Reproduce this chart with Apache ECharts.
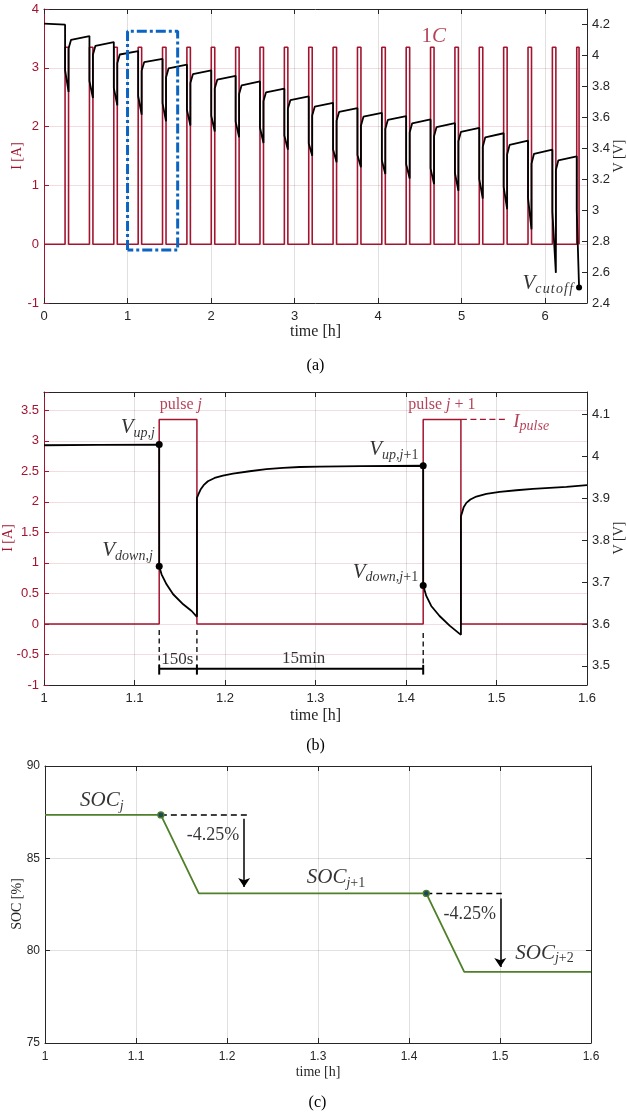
<!DOCTYPE html>
<html>
<head>
<meta charset="utf-8">
<title>Pulse discharge test</title>
<script src="https://cdn.jsdelivr.net/npm/echarts@6.0.0/dist/echarts.min.js"></script>
<style>
  html, body { margin: 0; padding: 0; background: #ffffff; }
  #chart { width: 627px; height: 1114px; }
</style>
</head>
<body>
<div id="chart"></div>
<script>
// ===================== (a) full pulse-discharge test =====================
// start time of every 1C discharge pulse [h] (150 s pulse + 15 min rest)
const pulseStart = [0.2523, 0.5440, 0.8356, 1.1273, 1.4190, 1.7106, 2.0023, 2.2940,
                    2.5856, 2.8773, 3.1690, 3.4606, 3.7523, 4.0440, 4.3356, 4.6273,
                    4.9190, 5.2106, 5.5023, 5.7940, 6.0856, 6.3773];
const pulseWidth = 150 / 3600;   // [h]
const pulseCurrent = 3.35;       // 1C [A]
const lastPulseEnd = 6.405;      // last pulse stopped at cut-off [h]
const vRestStart = 4.205;        // open-circuit voltage at t = 0 [V]
// voltage just before each pulse [V]
const vPre = [4.199, 4.125, 4.086, 4.0285, 3.978, 3.941, 3.904, 3.868, 3.832, 3.785, 3.735,
              3.694, 3.660, 3.629, 3.608, 3.586, 3.562, 3.532, 3.497, 3.449, 3.391, 3.348];
// voltage right after the current step [V]
const vDown = [3.905, 3.835, 3.790, 3.738, 3.692, 3.650, 3.610, 3.572, 3.533, 3.483, 3.432,
               3.392, 3.357, 3.322, 3.297, 3.270, 3.240, 3.200, 3.150, 3.080, 2.990, 3.000];
// voltage at the end of each complete pulse [V]
const vMin = [3.764, 3.725, 3.677, 3.617, 3.574, 3.547, 3.508, 3.471, 3.434, 3.391, 3.352,
              3.309, 3.277, 3.233, 3.205, 3.168, 3.125, 3.075, 3.006, 2.876, 2.595];
// voltage right after the pulse is switched off [V]
const vRec = [4.045, 4.005, 3.950, 3.901, 3.858, 3.822, 3.786, 3.750, 3.705, 3.655, 3.612,
              3.578, 3.546, 3.524, 3.502, 3.478, 3.446, 3.410, 3.360, 3.300, 3.260];
// voltage shortly after switch-off (end of the fast relaxation) [V]
const vKnee = [4.101, 4.062, 4.006, 3.956, 3.916, 3.879, 3.843, 3.807, 3.761, 3.711, 3.669,
               3.635, 3.604, 3.583, 3.561, 3.537, 3.506, 3.471, 3.422, 3.364, 3.322];
const kneeDelay = 0.03;          // [h]
const vCutoff = 2.5;             // [V]
// region shown in (b)
const boxTime = [1.0, 1.6];
const boxCurrent = [-0.1, 3.62];

// ===================== (b) two consecutive pulses =====================
const bPulseStart = [1.1273, 1.4190];
const bVoltTime = [1.0, 1.06, 1.1273,
  1.1273, 1.1299, 1.1354, 1.1427, 1.1538, 1.1631, 1.1690,
  1.1690, 1.1708, 1.1730, 1.1764, 1.1811, 1.1885, 1.1977, 1.2088, 1.2272, 1.2457, 1.2641, 1.2826, 1.3047, 1.3500, 1.4190,
  1.4190, 1.4224, 1.4279, 1.4371, 1.4482, 1.4607,
  1.4607, 1.4622, 1.4637, 1.4667, 1.4711, 1.4777, 1.4888, 1.5035, 1.5220, 1.5403, 1.5588, 1.5773, 1.6000];
const bVolt = [4.027, 4.028, 4.0285,
  3.738, 3.7186, 3.6948, 3.671, 3.647, 3.631, 3.617,
  3.901, 3.9107, 3.9212, 3.9315, 3.9410, 3.9488, 3.9546, 3.9594, 3.9649, 3.9697, 3.9728, 3.9750, 3.9760, 3.9770, 3.978,
  3.692, 3.667, 3.643, 3.619, 3.596, 3.574,
  3.8576, 3.8678, 3.8790, 3.8893, 3.8974, 3.9045, 3.9107, 3.9155, 3.9195, 3.9226, 3.9250, 3.9274, 3.9315];
const vUpB = [4.0285, 3.978];
const vDownB = [3.738, 3.692];

// ===================== (c) state of charge =====================
const socTime = [1.0, 1.1273, 1.1690, 1.4190, 1.4607, 1.6];
const soc = [87.35, 87.35, 83.10, 83.10, 78.85, 78.85];
const socDrop = 4.25;

// ---------------- styling ----------------
const RED = '#A2142F', INK = '#262626', BLUE = '#0B63C2', GREEN = '#4F7F28', DOT = '#1C4A5A';
const SANS = 'Liberation Sans', SERIF = 'Liberation Serif';
const GRID_RED = 'rgba(162,20,47,0.15)', GRID_GRAY = 'rgba(38,38,38,0.14)';
const HS = '\u200A';   // hair space, for math-style letter spacing

const tickFmt = step => v => {
  const q = v / step;
  return Math.abs(q - Math.round(q)) < 1e-6 ? String(+v.toFixed(2)) : '';
};

function xBottom(gridIndex, min, max, interval, nameGap, fontSize, margin, nameSize) {
  return {
    type: 'value', gridIndex, position: 'bottom', min, max, interval,
    axisLine: { show: true, onZero: false, lineStyle: { color: INK, width: 1 } },
    axisTick: { show: true, inside: true, length: 5, lineStyle: { color: INK } },
    axisLabel: { color: INK, fontFamily: SANS, fontSize, margin, formatter: tickFmt(interval) },
    splitLine: { show: true, lineStyle: { color: GRID_GRAY, width: 1 } },
    name: 'time [h]', nameLocation: 'middle', nameGap,
    nameTextStyle: { color: INK, fontFamily: SERIF, fontSize: nameSize }
  };
}
function xTop(gridIndex, min, max, interval) {
  return {
    type: 'value', gridIndex, position: 'top', min, max, interval,
    axisLine: { show: true, onZero: false, lineStyle: { color: INK, width: 1 } },
    axisTick: { show: true, inside: true, length: 5, lineStyle: { color: INK } },
    axisLabel: { show: false }, splitLine: { show: false }
  };
}
function yAx(o) {
  const ax = {
    type: 'value', gridIndex: o.grid, position: o.pos, min: o.min, max: o.max,
    axisLine: { show: true, onZero: false, lineStyle: { color: o.color, width: 1 } },
    axisTick: { show: true, inside: true, length: 5, lineStyle: { color: o.color } },
    axisLabel: { show: !!o.step, color: o.color, fontFamily: SANS, fontSize: o.size || 13, margin: 5,
                 formatter: o.step ? tickFmt(o.step) : undefined },
    splitLine: { show: !!o.split, lineStyle: { color: o.split, width: 1 } }
  };
  if (o.interval != null) ax.interval = o.interval;
  if (o.fixedStep != null) { ax.minInterval = o.fixedStep; ax.maxInterval = o.fixedStep; ax.splitNumber = o.splitNumber; }
  return ax;
}

const line = (xi, yi, data, color, width, type, z) => ({
  type: 'line', xAxisIndex: xi, yAxisIndex: yi, data, symbol: 'none', showSymbol: false,
  silent: true, z: z || 3, lineStyle: { color, width, type: type || 'solid' }
});
const dots = (xi, yi, data, color, size, border) => ({
  type: 'scatter', xAxisIndex: xi, yAxisIndex: yi, data, symbolSize: size, silent: true, z: 8,
  itemStyle: { color, borderColor: border || color, borderWidth: border ? 1.3 : 0, opacity: 1 }
});
// main glyph top-aligned in the line box, subscript bottom-aligned below it
const mathRich = (color, big, small) => {
  const lh = big + 2;
  return {
    m:  { fontFamily: SERIF, fontStyle: 'italic', fontSize: big, lineHeight: lh, verticalAlign: 'top', color },
    u:  { fontFamily: SERIF, fontSize: big, lineHeight: lh, verticalAlign: 'top', color },
    s:  { fontFamily: SERIF, fontStyle: 'italic', fontSize: small, lineHeight: lh, verticalAlign: 'bottom', color },
    su: { fontFamily: SERIF, fontSize: small, lineHeight: lh, verticalAlign: 'bottom', color }
  };
};
// text whose main glyph is centred vertically on the anchor
function mathNote(xi, yi, at, text, color, align, big, small) {
  big = big || 21; small = small || 14;
  return {
    type: 'scatter', xAxisIndex: xi, yAxisIndex: yi, data: [at], symbolSize: 1, silent: true, z: 20,
    itemStyle: { color: 'rgba(0,0,0,0)' },
    label: { show: true, position: 'inside', formatter: text, align, verticalAlign: 'top',
             offset: [0, -big / 2], rich: mathRich(color, big, small) }
  };
}
function plainNote(xi, yi, at, text, color, align, size, rich) {
  return {
    type: 'scatter', xAxisIndex: xi, yAxisIndex: yi, data: [at], symbolSize: 1, silent: true, z: 20,
    itemStyle: { color: 'rgba(0,0,0,0)' },
    label: { show: true, position: 'inside', formatter: text, align, verticalAlign: 'middle',
             color, fontFamily: SERIF, fontSize: size, rich }
  };
}
const romanItalic = (color, size) => ({
  u: { fontFamily: SERIF, fontSize: size, color },
  m: { fontFamily: SERIF, fontStyle: 'italic', fontSize: size, color }
});

// ---------------- (a) series data ----------------
const currentA = [[0, 0]];
pulseStart.forEach((ts, k) => {
  const te = k === pulseStart.length - 1 ? lastPulseEnd : ts + pulseWidth;
  currentA.push([ts, 0], [ts, pulseCurrent], [te, pulseCurrent], [te, 0]);
});
const voltageA = [[0, vRestStart]];
pulseStart.forEach((ts, k) => {
  voltageA.push([ts, vPre[k]], [ts, vDown[k]]);
  if (k < vMin.length) {
    const te = ts + pulseWidth;
    voltageA.push([te, vMin[k]], [te, vRec[k]], [te + kneeDelay, vKnee[k]]);
  } else {
    voltageA.push([lastPulseEnd, vCutoff]);
  }
});
const boxA = [[boxTime[0], boxCurrent[0]], [boxTime[0], boxCurrent[1]], [boxTime[1], boxCurrent[1]],
              [boxTime[1], boxCurrent[0]], [boxTime[0], boxCurrent[0]]];

// ---------------- (b) series data ----------------
const bPulseEnd = bPulseStart.map(t => t + pulseWidth);
const currentB = [[1.0, 0]];
bPulseStart.forEach((ts, k) => {
  currentB.push([ts, 0], [ts, pulseCurrent], [bPulseEnd[k], pulseCurrent], [bPulseEnd[k], 0]);
});
currentB.push([1.6, 0]);
const voltageB = bVoltTime.map((t, i) => [t, bVolt[i]]);

// ---------------- (c) series data ----------------
const socLine = socTime.map((t, i) => [t, soc[i]]);
const dropLabel = '-' + socDrop.toFixed(2) + '%';

const option = {
  animation: false,
  textStyle: { fontFamily: SANS },
  grid: [
    { left: 44, right: 40, top: 9, height: 294 },
    { left: 44, right: 40, top: 392, height: 293 },
    { left: 45, right: 36, top: 766, height: 277 }
  ],
  xAxis: [
    xBottom(0, 0, 6.5, 1, 21, 13, 7, 16),
    xTop(0, 0, 6.5, 1),
    xBottom(1, 1, 1.6, 0.1, 23, 13, 7, 16),
    xTop(1, 1, 1.6, 0.1),
    xBottom(2, 1, 1.6, 0.1, 22, 12, 8, 14),
    xTop(2, 1, 1.6, 0.1)
  ],
  yAxis: [
    yAx({ grid: 0, pos: 'left', min: -1, max: 4, interval: 1, step: 1, color: RED, split: GRID_RED }),
    yAx({ grid: 0, pos: 'right', min: 2.4, max: 4.3, interval: 0.2, step: 0.2, color: INK }),
    yAx({ grid: 1, pos: 'left', min: -1, max: 3.8, interval: 0.5, step: 0.5, color: RED, split: GRID_RED }),
    yAx({ grid: 1, pos: 'right', min: 3.4542, max: 4.1542, fixedStep: 0.1, splitNumber: 7, step: 0.1, color: INK }),
    yAx({ grid: 2, pos: 'left', min: 75, max: 90, interval: 5, step: 5, color: INK, split: GRID_GRAY, size: 12 }),
    yAx({ grid: 2, pos: 'right', min: 75, max: 90, interval: 5, color: INK })
  ],
  series: [
    // ---- (a)
    line(0, 0, currentA, RED, 1.6, 'solid', 3),
    line(0, 1, voltageA, '#000000', 1.8, 'solid', 4),
    line(0, 0, boxA, BLUE, 3, [10, 3, 3, 3], 6),
    dots(0, 1, [[lastPulseEnd, vCutoff]], '#000000', 6),
    mathNote(0, 0, [4.665, 3.53], '{u|1}{m|C}', RED, 'center'),
    mathNote(0, 0, [6.333, -0.672], '{m|V}{s|' + ['c', 'u', 't', 'o', 'f', 'f'].join(HS) + '}', '#000000', 'right'),

    // ---- (b)
    line(2, 2, currentB, RED, 1.5, 'solid', 3),
    line(2, 3, voltageB, '#000000', 1.8, 'solid', 4),
    dots(2, 3, [[bPulseStart[0], vUpB[0]], [bPulseStart[0], vDownB[0]],
                [bPulseStart[1], vUpB[1]], [bPulseStart[1], vDownB[1]]], '#000000', 7),
    line(2, 2, [[bPulseEnd[1], pulseCurrent], [1.511, pulseCurrent]], RED, 1.3, [6, 3.5], 5),
    line(2, 2, [[bPulseStart[0], -0.1], [bPulseStart[0], -0.67]], '#000000', 1.3, [5, 3.5], 5),
    line(2, 2, [[bPulseEnd[0], -0.1], [bPulseEnd[0], -0.67]], '#000000', 1.3, [5, 3.5], 5),
    line(2, 2, [[bPulseStart[1], -0.15], [bPulseStart[1], -0.67]], '#000000', 1.3, [5, 3.5], 5),
    line(2, 2, [[bPulseStart[0], -0.735], [bPulseStart[1], -0.735]], '#000000', 2, 'solid', 5),
    line(2, 2, [[bPulseStart[0], -0.67], [bPulseStart[0], -0.83]], '#000000', 2, 'solid', 5),
    line(2, 2, [[bPulseEnd[0], -0.67], [bPulseEnd[0], -0.83]], '#000000', 2, 'solid', 5),
    line(2, 2, [[bPulseStart[1], -0.67], [bPulseStart[1], -0.83]], '#000000', 2, 'solid', 5),
    plainNote(2, 2, [1.1512, 3.59], '{u|pulse }{m|j}', RED, 'center', 16, romanItalic(RED, 16)),
    plainNote(2, 2, [1.4396, 3.59], '{u|pulse }{m|j}{u| + 1}', RED, 'center', 16, romanItalic(RED, 16)),
    mathNote(2, 2, [1.5185, 3.306], '{m|I}{s|pulse}', RED, 'left', 19, 14),
    mathNote(2, 2, [1.1225, 3.211], '{m|V}{s|up,j}', '#000000', 'right'),
    mathNote(2, 2, [1.1202, 1.206], '{m|V}{s|down,j}', '#000000', 'right'),
    mathNote(2, 2, [1.4137, 2.851], '{m|V}{s|up,j}{su|+1}', '#000000', 'right'),
    mathNote(2, 2, [1.4134, 0.851], '{m|V}{s|down,j}{su|+1}', '#000000', 'right'),
    plainNote(2, 2, [1.1473, -0.581], '150s', '#000000', 'center', 17),
    plainNote(2, 2, [1.2869, -0.565], '15min', '#000000', 'center', 17),

    // ---- (c)
    line(4, 4, socLine, GREEN, 1.8, 'solid', 3),
    line(4, 4, [[socTime[1], soc[1]], [1.222, soc[1]]], '#000000', 1.5, [6, 4], 4),
    Object.assign(line(4, 4, [[socTime[3], soc[3]], [1.502, soc[3]]], '#000000', 1.5, [6, 4], 4), {
      markLine: {
        silent: true, symbol: ['none', 'arrow'], symbolSize: 9, animation: false,
        label: { show: false }, emphasis: { disabled: true },
        lineStyle: { color: '#000000', width: 1.5, type: 'solid' },
        data: [
          [{ coord: [1.2188, 87.15] }, { coord: [1.2188, 83.45] }],
          [{ coord: [1.5003, 82.82] }, { coord: [1.5003, 79.12] }]
        ]
      }
    }),
    dots(4, 4, [[socTime[1], soc[1]], [socTime[3], soc[3]]], DOT, 6, GREEN),
    mathNote(4, 4, [1.0385, 88.14], '{m|SOC}{s|j}', '#000000', 'left'),
    mathNote(4, 4, [1.2877, 83.95], '{m|SOC}{s|j}{su|+1}', '#000000', 'left'),
    mathNote(4, 4, [1.5168, 79.86], '{m|SOC}{s|j}{su|+2}', '#000000', 'left'),
    plainNote(4, 4, [1.1558, 86.25], dropLabel, '#000000', 'left', 18),
    plainNote(4, 4, [1.4379, 81.99], dropLabel, '#000000', 'left', 18)
  ],
  graphic: [
    { type: 'text', x: 17, y: 156, rotation: Math.PI / 2, silent: true,
      style: { text: 'I [A]', fill: RED, fontFamily: SERIF, fontSize: 14, align: 'center', verticalAlign: 'middle' } },
    { type: 'text', x: 619, y: 156, rotation: Math.PI / 2, silent: true,
      style: { text: 'V [V]', fill: INK, fontFamily: SERIF, fontSize: 14, align: 'center', verticalAlign: 'middle' } },
    { type: 'text', x: 8, y: 538, rotation: Math.PI / 2, silent: true,
      style: { text: 'I [A]', fill: RED, fontFamily: SERIF, fontSize: 14, align: 'center', verticalAlign: 'middle' } },
    { type: 'text', x: 619, y: 538, rotation: Math.PI / 2, silent: true,
      style: { text: 'V [V]', fill: INK, fontFamily: SERIF, fontSize: 14, align: 'center', verticalAlign: 'middle' } },
    { type: 'text', x: 17, y: 904, rotation: Math.PI / 2, silent: true,
      style: { text: 'SOC [%]', fill: INK, fontFamily: SERIF, fontSize: 14, align: 'center', verticalAlign: 'middle' } },
    { type: 'text', x: 315.5, y: 366, silent: true,
      style: { text: '(a)', fill: '#000000', fontFamily: SERIF, fontSize: 16, align: 'center', verticalAlign: 'middle' } },
    { type: 'text', x: 315.5, y: 746, silent: true,
      style: { text: '(b)', fill: '#000000', fontFamily: SERIF, fontSize: 16, align: 'center', verticalAlign: 'middle' } },
    { type: 'text', x: 317.5, y: 1103, silent: true,
      style: { text: '(c)', fill: '#000000', fontFamily: SERIF, fontSize: 16, align: 'center', verticalAlign: 'middle' } }
  ]
};

const chart = echarts.init(document.getElementById('chart'), null, { renderer: 'canvas' });
chart.setOption(option);
</script>
</body>
</html>
